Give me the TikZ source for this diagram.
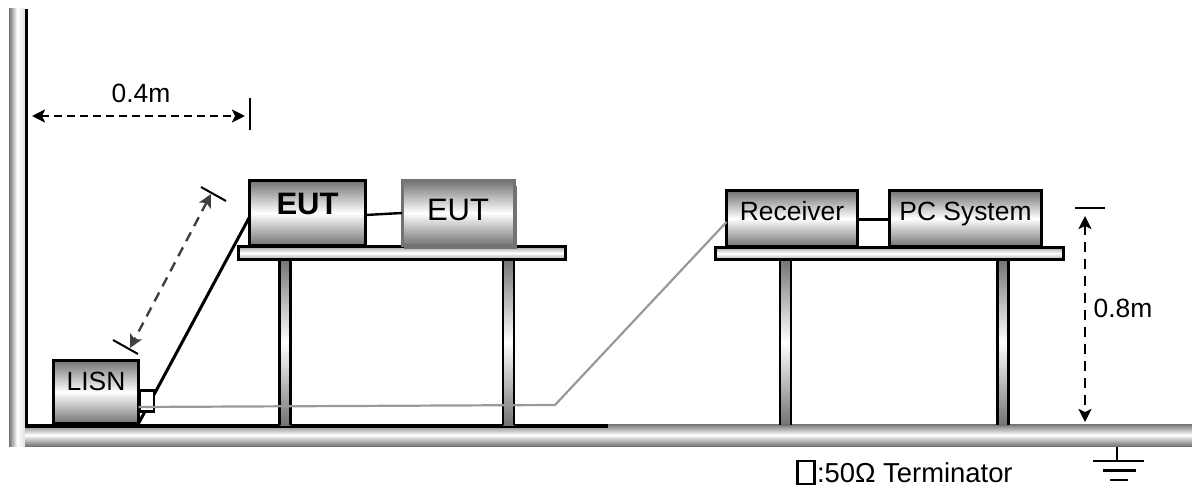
\documentclass[tikz,border=0pt]{standalone}
\usepackage{fontspec}
\setmainfont{Liberation Sans}
\usetikzlibrary{arrows.meta}
\tikzset{
  x=1pt,y=-1pt,
  every node/.style={font=\fontsize{26.4}{30}\selectfont},
  metal/.style={top color=black!55,bottom color=black!55,middle color=white},
  boxbase/.style={metal,inner sep=0pt,outer sep=0pt},
  unit/.style={boxbase,draw=black,line width=3pt},
  unitgray/.style={boxbase,draw=black!55,line width=3pt},
  plane/.style={top color=black!35,bottom color=black!35,middle color=white,draw=black,line width=2.6pt,inner sep=0pt,outer sep=0pt},
  bar/.style={boxbase,minimum width=11pt,minimum height=166pt},
  barside/.style={line width=2.6pt,black},
  cable/.style={line width=3pt,black},
  link/.style={line width=2.4pt,black},
  graycable/.style={line width=2.2pt,black!40},
  dim/.style={line width=2.4pt,dash pattern=on 8pt off 5pt,{Stealth[length=13pt,width=13pt,inset=3pt]}-{Stealth[length=13pt,width=13pt,inset=3pt]}},
  dimlong/.style={dim,dash pattern=on 10pt off 7pt},
  tick/.style={line width=2pt,black},
  gnd/.style={line width=2.4pt,black},
  txt/.style={inner sep=0pt,outer sep=0pt}
}
\begin{document}
\begin{tikzpicture}
\useasboundingbox (0,0) rectangle (1192,486);
% wall and floor
\node[inner sep=0pt,outer sep=0pt,minimum width=16pt,minimum height=437pt,left color=black!55,right color=black!12,middle color=white] (wall) at (17,227.5) {};
\node[boxbase,minimum width=1167pt,minimum height=22pt] (floor) at (608.5,435) {};
\draw[line width=3.4pt] (26.5,9) coordinate (walltop) -- (26.5,427.5) coordinate (corner);
\draw[line width=3.6pt] (25,426) -- (608,426) coordinate (floorend);
% table legs
\foreach \n/\px/\py in {la/285/342,lb/508.5/342,lc/785.5/342,ld/1003/342}{
  \node[bar] (\n) at (\px,\py) {};
  \draw[barside] (\n.north west) -- (\n.south west);
  \draw[barside] (\n.north east) -- (\n.south east);
}
% table tops
\node[plane,minimum width=327pt,minimum height=12.5pt] (tableA) at (402,253) {};
\node[plane,minimum width=348pt,minimum height=12.5pt] (tableB) at (889.5,253.5) {};
% units
\node[unit,minimum width=116pt,minimum height=65pt,text height=22pt,text depth=18pt,font=\fontsize{31}{34}\selectfont\bfseries] (eutA) at (307.5,213) {EUT};
\fill[black!55] (404,186) rectangle (517,249);
\node[unitgray,minimum width=112pt,minimum height=65pt,text height=20pt,text depth=4pt,font=\fontsize{31}{34}\selectfont] (eutB) at (458,213) {EUT};
\node[unit,minimum width=131pt,minimum height=56pt,text height=20pt,text depth=15pt] (recv) at (792,218.5) {Receiver};
\node[unit,minimum width=152pt,minimum height=56pt,text height=20pt,text depth=15pt] (pc) at (965.5,218.5) {PC System};
\node[unit,minimum width=85pt,minimum height=63pt,text height=20pt,text depth=22pt] (lisn) at (96,392) {LISN};
% cables
\draw[link] ([yshift=-2pt]eutA.east) -- (eutB.west);
\draw[link] ([yshift=-1pt]recv.east) -- ([yshift=-1pt]pc.west);
\draw[cable] (lisn.south east) -- ([yshift=-4pt]eutA.west);
\node[draw=black,line width=2.4pt,fill=white,inner sep=0pt,outer sep=0pt,minimum width=14pt,minimum height=21pt] (term) at (147,401) {};
\draw[graycable] ([yshift=-15pt]lisn.east) -- (555,405) coordinate (bend) -- ([yshift=-3.5pt]recv.west);
% dimension marks
\coordinate (a1) at (32,116); \coordinate (a2) at (245,116);
\draw[tick] (250,98) coordinate (t1) -- (250,130) coordinate (t2);
\draw[dim] (a1) -- (a2);
\node[txt] (l04) at (141,93) {0.4m};
\coordinate (d1t) at (201,187); \coordinate (d1b) at (226,201);
\coordinate (d2t) at (113,340); \coordinate (d2b) at (138,354);
\draw[tick] (d1t) -- (d1b);
\draw[tick] (d2t) -- (d2b);
\draw[dimlong,black!75] (211,194) coordinate (d3) -- (130,348) coordinate (d4);
\coordinate (h1) at (1075,208); \coordinate (h2) at (1105,208);
\draw[tick] (h1) -- (h2);
\draw[dimlong] (1085,216) coordinate (v1) -- (1085,422) coordinate (v2);
\node[txt] (l08) at (1123,308) {0.8m};
% ground symbol
\draw[gnd] (1117,447) coordinate (g0) -- (1117,461) coordinate (g1);
\draw[gnd] (1093,461) -- (1144,461);
\draw[gnd] (1103,470.5) -- (1136,470.5);
\draw[gnd] (1110,480) -- (1128,480);
% legend
\node[draw=black,line width=2.2pt,inner sep=0pt,outer sep=0pt,minimum width=17pt,minimum height=23pt] (legend) at (806,472.5) {};
\node[txt,anchor=base west,font=\fontsize{27.4}{30}\selectfont] (legendtext) at (817,482) {:50Ω Terminator};
\end{tikzpicture}
\end{document}
